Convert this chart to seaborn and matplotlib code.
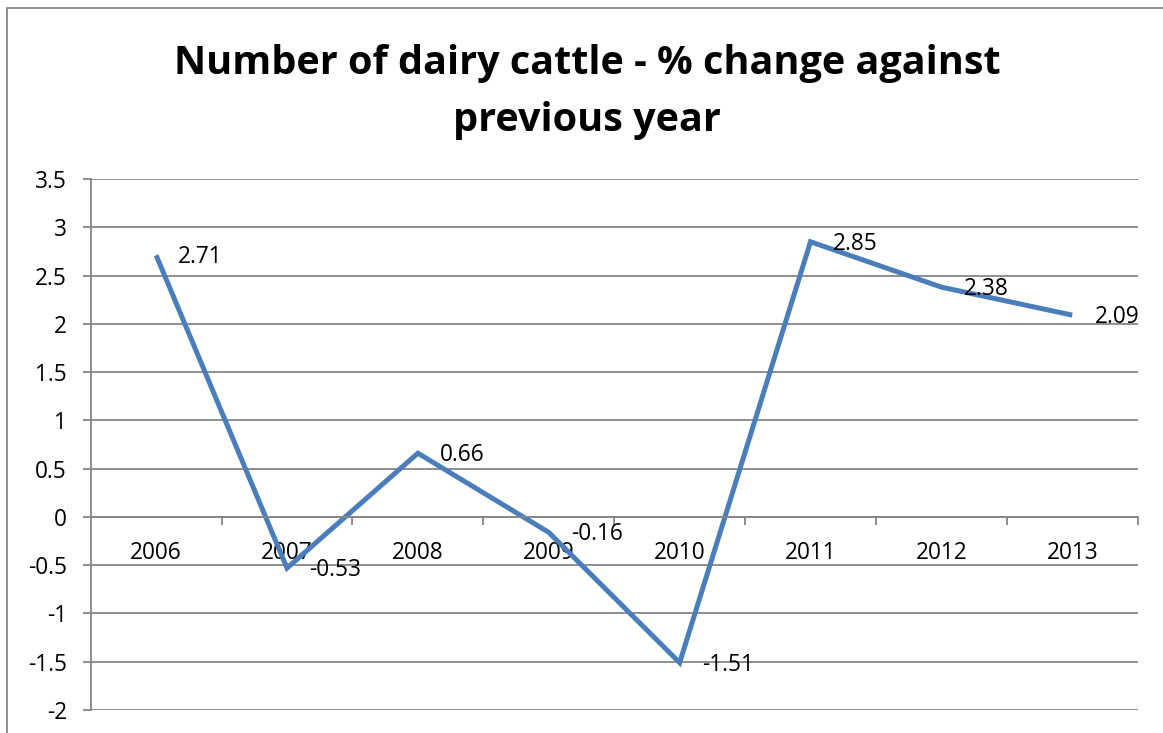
import matplotlib
matplotlib.use("Agg")
import matplotlib.pyplot as plt
import seaborn as sns
import numpy as np
import pandas as pd
from matplotlib.patches import Rectangle
from matplotlib.ticker import FixedLocator, NullFormatter, FixedFormatter

years = ["2006", "2007", "2008", "2009", "2010", "2011", "2012", "2013"]
pct_change = [2.71, -0.53, 0.66, -0.16, -1.51, 2.85, 2.38, 2.09]
label_texts = ["2.71", "-0.53", "0.66", "-0.16", "-1.51", "2.85", "2.38", "2.09"]
y_ticks = [-2, -1.5, -1, -0.5, 0, 0.5, 1, 1.5, 2, 2.5, 3, 3.5]
y_tick_labels = ["-2", "-1.5", "-1", "-0.5", "0", "0.5", "1", "1.5", "2", "2.5", "3", "3.5"]
title = "Number of dairy cattle - % change against\nprevious year"

sns.set_theme(style="white")
plt.rcParams['font.family'] = ['Open Sans', 'DejaVu Sans']

W, H = 1163, 733
fig = plt.figure(figsize=(W / 100, H / 100), dpi=100)
ax = fig.add_axes([90.7 / W, 1 - 710 / H, (1137.7 - 90.7) / W, (710 - 179) / H])

grid_col = "#868686"
line_col = "#4A7EBB"
fs = 16.3

df = pd.DataFrame({"pos": np.arange(len(years)), "value": pct_change})
sns.lineplot(data=df, x="pos", y="value", ax=ax, color=line_col, linewidth=3.6,
             solid_joinstyle="miter", solid_capstyle="butt")

ax.set_xlim(-0.5, len(years) - 0.5)
ax.set_ylim(min(y_ticks), max(y_ticks))
ax.set_yticks(y_ticks)
ax.set_yticklabels(y_tick_labels)
for yv in y_ticks:
    ax.axhline(yv, color=grid_col, linewidth=1.3, zorder=0)

for s in ["top", "right"]:
    ax.spines[s].set_visible(False)
ax.spines["left"].set_color(grid_col)
ax.spines["left"].set_linewidth(1.3)
ax.spines["bottom"].set_position(("data", 0))
ax.spines["bottom"].set_color(grid_col)
ax.spines["bottom"].set_linewidth(1.3)

ax.tick_params(axis="y", which="major", direction="out", length=6, width=1.3,
               color=grid_col, pad=11, labelsize=fs, labelcolor="black", left=True)
bounds = np.arange(len(years) + 1) - 0.5
ax.xaxis.set_major_locator(FixedLocator(bounds[1:]))
ax.xaxis.set_major_formatter(NullFormatter())
ax.xaxis.set_minor_locator(FixedLocator(np.arange(len(years))))
ax.xaxis.set_minor_formatter(FixedFormatter(years))
ax.tick_params(axis="x", which="major", direction="out", length=6, width=1.3,
               color=grid_col, bottom=True)
ax.tick_params(axis="x", which="minor", length=0, pad=17.5, labelsize=fs,
               labelcolor="black", bottom=True)
ax.set_xlabel("")
ax.set_ylabel("")

for i, (v, t) in enumerate(zip(pct_change, label_texts)):
    ax.annotate(t, (i, v), xytext=(16, -1.5), textcoords="offset points",
                ha="left", va="center", fontsize=fs, color="black")

fig.text(587 / W, 1 - 92 / H, title, ha="center", va="center", fontsize=28.5,
         fontweight="bold", linespacing=1.6, color="black")

fig.patches.append(Rectangle((6.5 / W, -0.1), 1.2, 1 - 8 / H + 0.1, transform=fig.transFigure,
                             fill=False, edgecolor=grid_col, linewidth=1.3))

fig.savefig("out.png", dpi=100)
